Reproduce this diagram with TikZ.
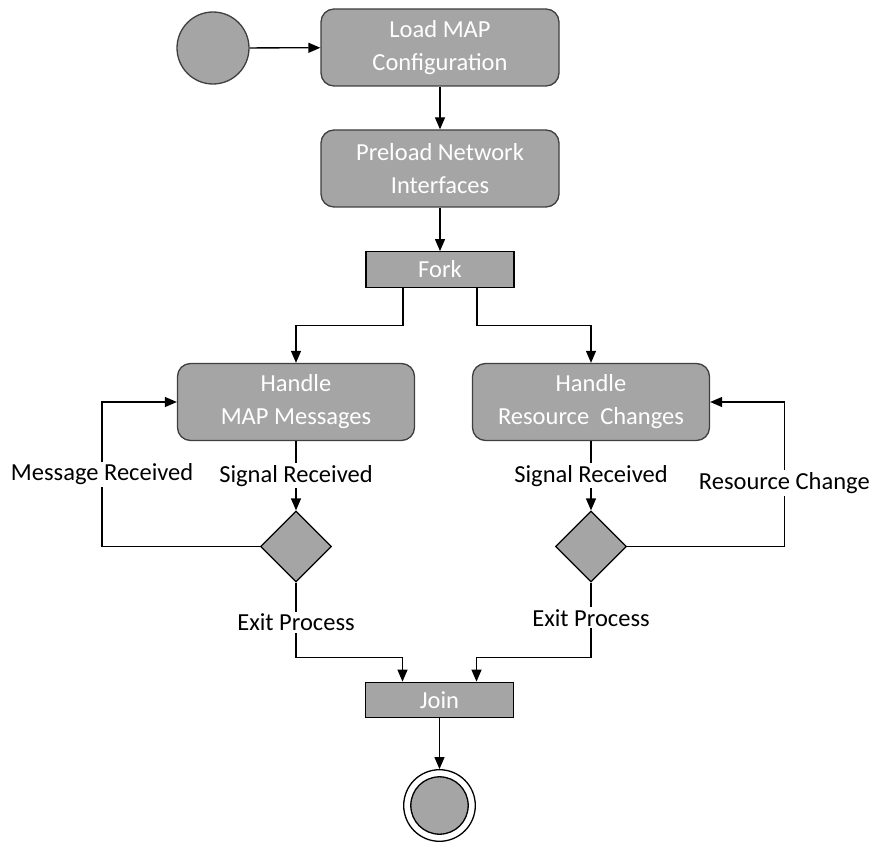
\documentclass[tikz,border=0pt]{standalone}
\usepackage{fontspec}
\setmainfont{Carlito}
\usetikzlibrary{arrows.meta,shapes.geometric}
\definecolor{boxfill}{HTML}{A5A5A5}
\definecolor{boxline}{HTML}{3F3F3F}

\begin{document}
\begin{tikzpicture}[x=1pt,y=-1pt,
  every node/.style={font=\fontsize{24.5}{33}\selectfont},
  action/.style={draw=boxline, fill=boxfill, rounded corners=13pt,
    minimum width=238pt, minimum height=77pt, align=center,
    text=white, line width=1.3pt, inner sep=0pt},
  bar/.style={draw=black, fill=boxfill, minimum width=148pt,
    minimum height=35.5pt, text=white, line width=1.3pt, inner sep=0pt},
  decision/.style={draw=black, fill=boxfill, diamond, minimum width=71pt,
    minimum height=71pt, inner sep=0pt, line width=1.2pt},
  flow/.style={line width=1.3pt, -{Triangle[length=12pt,width=10pt]}},
  lbl/.style={fill=white, inner sep=2pt, text=black}]

\useasboundingbox (0,0) rectangle (872,842);

% activities
\node[circle, draw=boxline, fill=boxfill, minimum size=72pt,
      line width=1.3pt, inner sep=0pt] (start) at (213,48) {};
\node[action] (load) at (440,47.5) {Load MAP\\Configuration};
\node[action] (pre) at (440,168.5) {Preload Network\\Interfaces};
\node[bar] (fork) at (440,269.5) {Fork};
\node[action, minimum width=237pt] (hmap) at (296,402) {Handle\\MAP Messages};
\node[action, minimum width=237pt] (hres) at (591,402) {Handle\\Resource\ \ Changes};
\node[decision] (d1) at (296,546.5) {};
\node[decision] (d2) at (591,546.5) {};
\node[bar] (join) at (439.5,700) {Join};
\node[circle, draw=black, fill=white, minimum size=71.6pt,
      line width=1.3pt, inner sep=0pt] (end) at (439.5,805.5) {};
\node[circle, draw=black, fill=boxfill, minimum size=57.4pt,
      line width=1.3pt, inner sep=0pt] (endin) at (end) {};

% control flow
\draw[flow] (start) -- (load);
\draw[flow] (load) -- (pre);
\draw[flow] (pre) -- (fork);
\draw[flow] ([xshift=-37pt]fork.south) -- ++(0,37.5) -| (hmap.north);
\draw[flow] ([xshift=37pt]fork.south) -- ++(0,37.5) -| (hres.north);
\draw[flow] (hmap) -- node[lbl]{Signal Received} (d1);
\draw[flow] (hres) -- node[lbl]{Signal Received} (d2);
\draw[flow] (d1.west) -- ++(-157.8,0) |- node[lbl, pos=0.25]{Message Received} (hmap.west);
\draw[flow] (d2.east) -- ++(157.2,0) |- node[lbl, pos=0.22]{Resource Change} (hres.east);
\draw[flow] (d1.south) -- node[lbl, pos=0.53]{Exit Process} ++(0,75) -| ([xshift=-37pt]join.north);
\draw[flow] (d2.south) -- node[lbl, pos=0.47]{Exit Process} ++(0,75) -| ([xshift=37pt]join.north);
\draw[flow] (join) -- (end);
\end{tikzpicture}
\end{document}
